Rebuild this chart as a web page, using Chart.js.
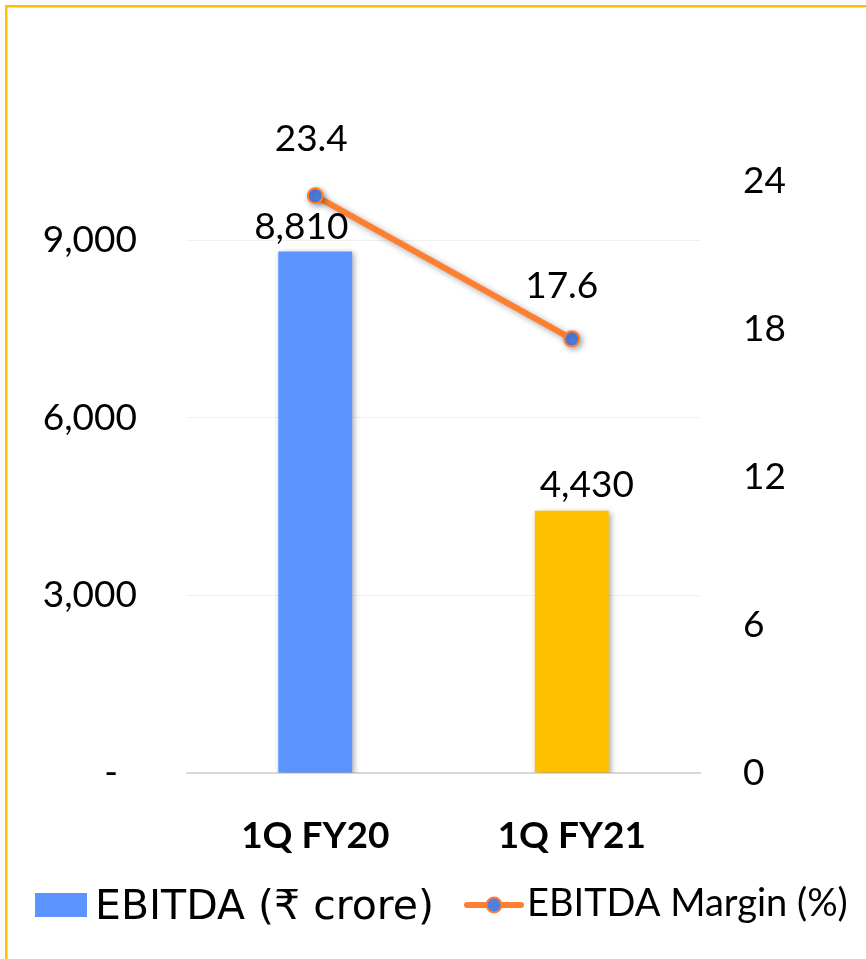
<!DOCTYPE html>
<html>
<head>
<meta charset="utf-8">
<script src="https://cdn.jsdelivr.net/npm/chart.js@4"></script>
<style>
  html, body { margin: 0; padding: 0; background: #fff; }
  #wrap { width: 866px; height: 959px; position: relative; }
</style>
</head>
<body>
<div id="wrap"><canvas id="chartEbitda" width="866" height="959"></canvas></div>
<script>
const categories = ['1Q FY20', '1Q FY21'];
const ebitda = [8810, 4430];
const margin = [23.4, 17.6];
const barColors = ['#5B94FF', '#FFC000'];
const leftTicks = [0, 3000, 6000, 9000];
const rightTicks = [0, 6, 12, 18, 24];

const orange = '#FF7F32';
const dotBlue = '#4F7FE0';

// petits décalages des étiquettes (placées à la main dans l'original)
const barLabelNudge = [[-14, -24], [15, -26]];
const lineLabelNudge = [[-4, -57], [-10, -53]];

function formatNombre(v) {
  return v.toLocaleString('en-US');
}

const ombre = {
  id: 'ombre',
  beforeDatasetDraw(chart, args) {
    const ctx = chart.ctx;
    ctx.save();
    ctx.shadowColor = 'rgba(0,0,0,0.35)';
    ctx.shadowBlur = 6;
    ctx.shadowOffsetX = 2;
    ctx.shadowOffsetY = 2;
  },
  afterDatasetDraw(chart) {
    chart.ctx.restore();
  }
};

const decor = {
  id: 'decor',
  beforeDraw(chart) {
    const ctx = chart.ctx;
    ctx.save();
    ctx.fillStyle = '#FFC000';
    ctx.fillRect(5, 5, 861, 2.5);
    ctx.fillRect(5, 5, 2.5, 954);
    ctx.restore();
  },
  afterDraw(chart) {
    const ctx = chart.ctx;
    ctx.save();
    ctx.fillStyle = '#000';
    ctx.textAlign = 'center';
    ctx.textBaseline = 'middle';
    ctx.font = '37px Lato';

    const barMeta = chart.getDatasetMeta(1);
    barMeta.data.forEach((bar, i) => {
      const n = barLabelNudge[i];
      ctx.fillText(formatNombre(ebitda[i]), bar.x + n[0], bar.y + n[1]);
    });
    const lineMeta = chart.getDatasetMeta(0);
    lineMeta.data.forEach((pt, i) => {
      const n = lineLabelNudge[i];
      ctx.fillText(margin[i].toFixed(1), pt.x + n[0], pt.y + n[1]);
    });

    // légende
    ctx.textAlign = 'left';
    ctx.textBaseline = 'alphabetic';
    ctx.fillStyle = barColors[0];
    ctx.fillRect(35, 893, 52, 24);
    ctx.fillStyle = '#000';
    ctx.font = '41px "DejaVu Sans"';
    ctx.fillText('EBITDA (₹ crore)', 95, 919);

    ctx.strokeStyle = orange;
    ctx.lineWidth = 6;
    ctx.lineCap = 'round';
    ctx.beginPath();
    ctx.moveTo(467, 905);
    ctx.lineTo(521, 905);
    ctx.stroke();
    ctx.beginPath();
    ctx.arc(494, 905, 7.5, 0, Math.PI * 2);
    ctx.fillStyle = dotBlue;
    ctx.fill();
    ctx.lineWidth = 2;
    ctx.stroke();

    ctx.fillStyle = '#000';
    ctx.font = '38px Lato';
    ctx.fillText('EBITDA Margin (%)', 527, 916);
    ctx.restore();
  }
};

function dessiner() {
  new Chart(document.getElementById('chartEbitda'), {
    data: {
      labels: categories,
      datasets: [
        {
          type: 'line',
          label: 'EBITDA Margin (%)',
          data: margin,
          yAxisID: 'y2',
          borderColor: orange,
          borderWidth: 6,
          pointRadius: 7.5,
          pointBackgroundColor: dotBlue,
          pointBorderColor: orange,
          pointBorderWidth: 2,
          order: 0
        },
        {
          type: 'bar',
          label: 'EBITDA (₹ crore)',
          data: ebitda,
          yAxisID: 'y',
          backgroundColor: barColors,
          barPercentage: 0.288,
          categoryPercentage: 1,
          order: 1
        }
      ]
    },
    plugins: [ombre, decor],
    options: {
      responsive: false,
      animation: false,
      layout: { padding: { top: 181, left: 0, right: 0, bottom: 0 } },
      plugins: {
        legend: { display: false },
        tooltip: { enabled: false }
      },
      scales: {
        x: {
          grid: { display: false },
          border: { color: '#D9D9D9', width: 2 },
          ticks: {
            color: '#000',
            font: { family: 'Lato', size: 37, weight: 'bold' },
            padding: 33
          },
          afterFit(scale) { scale.height = 186; }
        },
        y: {
          position: 'left',
          min: 0,
          max: 10000,
          afterBuildTicks(scale) {
            scale.ticks = leftTicks.map(v => ({ value: v }));
          },
          grid: { color: '#F0F0F0', lineWidth: 1, drawTicks: false },
          border: { display: false },
          ticks: {
            color: '#000',
            font: { family: 'Lato', size: 37 },
            padding: 50,
            callback: v => v === 0 ? '-  ' : formatNombre(v)
          },
          afterFit(scale) { scale.width = 187; }
        },
        y2: {
          position: 'right',
          min: 0,
          max: 24,
          afterBuildTicks(scale) {
            scale.ticks = rightTicks.map(v => ({ value: v }));
          },
          grid: { display: false, drawTicks: false },
          border: { display: false },
          ticks: {
            color: '#000',
            font: { family: 'Lato', size: 37 },
            padding: 43
          },
          afterFit(scale) { scale.width = 166; }
        }
      }
    }
  });
}

Promise.all([
  document.fonts.load('37px Lato'),
  document.fonts.load('bold 37px Lato'),
  document.fonts.load('41px "DejaVu Sans"')
]).then(dessiner, dessiner);
</script>
</body>
</html>
